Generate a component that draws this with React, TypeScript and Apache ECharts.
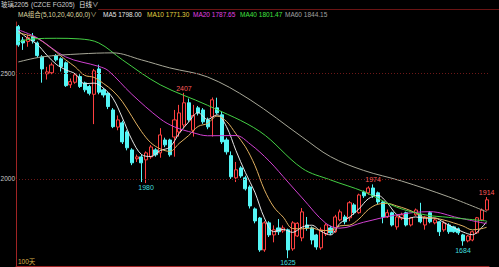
import React, { useEffect, useRef } from 'react';
import * as echarts from 'echarts';

// [open, close, low, high]
const ohlc: number[][] = [
  [2720, 2634, 2625, 2728], [2657, 2643, 2610, 2671], [2650, 2668, 2625, 2681], [2673, 2652, 2640, 2690],
  [2643, 2583, 2575, 2650], [2577, 2520, 2455, 2585], [2497, 2506, 2470, 2530], [2502, 2539, 2495, 2550],
  [2583, 2563, 2555, 2590], [2568, 2531, 2508, 2575], [2549, 2441, 2435, 2555], [2445, 2460, 2430, 2475],
  [2457, 2492, 2450, 2500], [2484, 2437, 2430, 2495], [2454, 2421, 2410, 2460], [2437, 2405, 2395, 2445],
  [2400, 2511, 2259, 2520], [2520, 2410, 2400, 2540], [2421, 2397, 2385, 2430], [2405, 2342, 2330, 2410],
  [2326, 2247, 2240, 2335], [2245, 2279, 2230, 2300], [2265, 2175, 2165, 2275], [2222, 2147, 2135, 2230],
  [2137, 2076, 2065, 2145], [2095, 2104, 2080, 2115], [2104, 2076, 1985, 2115], [2090, 2123, 1980, 2130],
  [2104, 2151, 2095, 2160], [2137, 2114, 2105, 2145], [2123, 2208, 2100, 2240], [2184, 2161, 2150, 2195],
  [2184, 2114, 2105, 2190], [2198, 2279, 2105, 2326], [2222, 2312, 2200, 2350], [2255, 2360, 2240, 2407],
  [2360, 2279, 2270, 2380], [2230, 2300, 2200, 2350], [2336, 2312, 2300, 2345], [2326, 2270, 2260, 2335],
  [2279, 2246, 2235, 2290], [2293, 2374, 2200, 2385], [2336, 2312, 2305, 2384], [2303, 2175, 2165, 2320],
  [2184, 2128, 2115, 2195], [2110, 2010, 2000, 2130], [2005, 2043, 1985, 2080], [2052, 2014, 2005, 2060],
  [2005, 1953, 1945, 2015], [1962, 1872, 1860, 1970], [1858, 1801, 1790, 1865], [1815, 1664, 1655, 1820],
  [1664, 1792, 1655, 1800], [1792, 1735, 1725, 1800], [1735, 1759, 1700, 1780], [1768, 1750, 1735, 1810],
  [1754, 1768, 1745, 1780], [1759, 1664, 1625, 1765], [1669, 1792, 1660, 1800], [1730, 1790, 1725, 1795],
  [1721, 1844, 1705, 1862], [1782, 1768, 1755, 1820], [1768, 1711, 1690, 1775], [1735, 1678, 1665, 1740],
  [1674, 1759, 1665, 1770], [1740, 1782, 1730, 1790], [1768, 1745, 1735, 1778], [1750, 1820, 1745, 1830],
  [1806, 1844, 1800, 1855], [1820, 1797, 1785, 1830], [1816, 1887, 1800, 1895], [1877, 1840, 1830, 1885],
  [1840, 1924, 1835, 1930], [1938, 1920, 1910, 1945], [1934, 1957, 1925, 1965], [1957, 1920, 1910, 1974],
  [1934, 1891, 1880, 1940], [1891, 1820, 1790, 1895], [1820, 1840, 1815, 1855], [1840, 1782, 1775, 1845],
  [1773, 1820, 1760, 1830], [1815, 1830, 1805, 1840], [1840, 1782, 1775, 1845], [1782, 1816, 1775, 1820],
  [1830, 1853, 1825, 1860], [1830, 1797, 1790, 1887], [1782, 1820, 1760, 1825], [1840, 1797, 1790, 1848],
  [1792, 1806, 1785, 1815], [1797, 1750, 1730, 1800], [1759, 1792, 1750, 1800], [1782, 1750, 1740, 1790],
  [1773, 1750, 1745, 1778], [1764, 1745, 1735, 1770], [1735, 1707, 1684, 1740], [1707, 1730, 1700, 1735],
  [1711, 1750, 1705, 1755], [1745, 1816, 1740, 1820], [1806, 1853, 1800, 1860], [1853, 1901, 1850, 1914],
];

const categories = ohlc.map((_, i) => `D${i + 1}`);

// moving-average lines: [candle index, value]
const ma5: number[][] = [
  [0, 2700], [2, 2665], [4, 2636], [6, 2586], [8, 2542], [10, 2516], [12, 2497], [14, 2450], [16, 2453],
  [18, 2429], [20, 2381], [22, 2288], [24, 2185], [26, 2116], [28, 2106], [30, 2134], [32, 2150], [34, 2215],
  [36, 2269], [38, 2313], [40, 2281], [42, 2303], [44, 2247], [46, 2134], [48, 2030], [50, 1937], [52, 1816],
  [54, 1750], [56, 1761], [58, 1747], [60, 1772], [62, 1781], [64, 1752], [66, 1735], [68, 1790], [70, 1819],
  [72, 1858], [74, 1906], [76, 1922], [78, 1886], [80, 1831], [82, 1811], [84, 1820], [86, 1814], [88, 1815],
  [90, 1793], [92, 1770], [94, 1749], [96, 1736], [98, 1771], [99, 1798],
];
const ma10: number[][] = [
  [0, 2690], [2, 2680], [4, 2665], [6, 2635], [8, 2600], [10, 2563], [12, 2530], [14, 2490], [16, 2480],
  [18, 2451], [20, 2416], [22, 2365], [24, 2295], [26, 2225], [28, 2171], [30, 2142], [32, 2130], [34, 2168],
  [36, 2205], [38, 2248], [40, 2262], [42, 2297], [44, 2272], [46, 2213], [48, 2152], [50, 2064], [52, 1949],
  [54, 1867], [56, 1819], [58, 1765], [60, 1764], [62, 1768], [64, 1756], [66, 1756], [68, 1778], [70, 1781],
  [72, 1810], [74, 1855], [76, 1880], [78, 1884], [80, 1872], [82, 1858], [84, 1839], [86, 1817], [88, 1815],
  [90, 1805], [92, 1792], [94, 1777], [96, 1759], [98, 1765], [99, 1771],
];
const ma20: number[][] = [
  [0, 2705], [4, 2667], [10, 2577], [17, 2532], [19, 2512], [24, 2400], [30, 2284], [33, 2246], [37, 2218],
  [40, 2204], [46, 2205], [49, 2165], [53, 2085], [57, 1985], [60, 1910], [65, 1790], [68, 1767], [73, 1795],
  [80, 1830], [87, 1845], [93, 1816], [99, 1788],
];
const ma40: number[][] = [
  [0, 2648], [3, 2662], [8, 2665], [13, 2662], [17, 2643], [22, 2563], [30, 2445], [40, 2348], [51, 2225],
  [60, 2050], [66, 1995], [73, 1940], [80, 1866], [86, 1830], [91, 1818], [99, 1801],
];
const ma60: number[][] = [
  [0, 2553], [5, 2577], [13, 2591], [20, 2596], [26, 2563], [32, 2525], [40, 2482], [49, 2374], [60, 2198],
  [66, 2105], [73, 2040], [81, 1990], [91, 1915], [99, 1844],
];

const highMarks: number[][] = [[35, 2407], [75, 1974], [99, 1914]];
const lowMarks: number[][] = [[27, 1980], [57, 1625], [94, 1684]];
const priceLevels = [2000, 2500];

const titleTexts = ['玻璃2205', '(CZCE FG205)', '日线∨'];
const legendTexts = ['MA组合(5,10,20,40,60,0)∨', 'MA5 1798.00', 'MA10 1771.30', 'MA20 1787.65', 'MA40 1801.47', 'MA60 1844.15'];
const periodText = '100天';

const FONT = "'Liberation Sans', 'Noto Sans CJK SC', sans-serif";
const FS = 6.5;
const RED = '#ff4040';
const CYAN = '#54f6f6';
const maColors = ['#e6e6e6', '#e0b060', '#d040d0', '#44d044', '#a8a898'];
const legendColors = ['#ddd6a0', '#e6e6e6', '#e0d040', '#e040e0', '#40e040', '#a0a0a0'];
const legendX = [18, 103, 147, 193, 240, 285];
const titleX = [1, 31, 79];

export default function App() {
  const ref = useRef<HTMLDivElement>(null);
  useEffect(() => {
    if (!ref.current) return;
    const chart = echarts.init(ref.current, undefined, { renderer: 'svg' });
    const maSeries = [ma5, ma10, ma20, ma40, ma60].map((d, k) => ({
      type: 'line',
      data: d,
      showSymbol: false,
      smooth: 0.35,
      silent: true,
      z: 3,
      lineStyle: { color: maColors[k], width: 1 },
    }));
    const markLabel = (pos: string, color: string) => ({
      show: true,
      position: pos,
      distance: 1,
      color,
      fontSize: 7,
      fontFamily: FONT,
      formatter: (p: any) => String(p.value),
    });
    const graphic: any[] = [];
    titleTexts.forEach((t, k) => {
      graphic.push({
        type: 'text', x: titleX[k], y: 4.5, silent: true,
        style: { text: t, fill: k === 2 ? '#e8e8e8' : '#cfcfcf', fontSize: FS, fontFamily: FONT, verticalAlign: 'middle' },
      });
    });
    legendTexts.forEach((t, k) => {
      graphic.push({
        type: 'text', x: legendX[k], y: 14.5, silent: true,
        style: { text: t, fill: legendColors[k], fontSize: FS, fontFamily: FONT, verticalAlign: 'middle' },
      });
    });
    graphic.push({
      type: 'line', silent: true,
      shape: { x1: 98, y1: 9.5, x2: 499, y2: 9.5 },
      style: { stroke: '#6a1414', lineWidth: 1 },
    });
    graphic.push({
      type: 'text', x: 18, y: 261, silent: true,
      style: { text: periodText, fill: '#d8b048', fontSize: FS, fontFamily: FONT, verticalAlign: 'middle' },
    });
    chart.setOption({
      animation: false,
      backgroundColor: '#000000',
      grid: { left: 16, right: 10, top: 22, bottom: 1 },
      xAxis: {
        type: 'category',
        data: categories,
        boundaryGap: true,
        axisLine: { show: true, lineStyle: { color: '#a02424', width: 1 } },
        axisTick: { show: false },
        axisLabel: { show: false },
        splitLine: { show: false },
      },
      yAxis: {
        type: 'value',
        min: 1588,
        max: 2742,
        axisLine: { show: true, lineStyle: { color: '#a02424', width: 1 } },
        axisTick: { show: false },
        axisLabel: { show: false },
        splitLine: { show: false },
      },
      graphic,
      series: [
        {
          type: 'candlestick',
          data: ohlc,
          barWidth: 3.6,
          z: 2,
          itemStyle: {
            color: '#000000',
            color0: CYAN,
            borderColor: RED,
            borderColor0: CYAN,
            borderWidth: 1,
          },
          markLine: {
            silent: true,
            symbol: ['none', 'none'],
            lineStyle: { color: '#6e1818', type: [1, 2], width: 1 },
            label: {
              show: true,
              position: 'start',
              distance: 1,
              color: '#c8c8c8',
              fontSize: FS,
              fontFamily: FONT,
              formatter: (p: any) => String(p.value),
            },
            data: priceLevels.map((v) => ({ yAxis: v })),
          },
          markPoint: {
            silent: true,
            symbol: 'circle',
            symbolSize: 0,
            itemStyle: { color: 'transparent' },
            data: [
              ...highMarks.map(([i, v]) => ({ coord: [i, v], value: v, label: markLabel('top', '#ff5a5a') })),
              ...lowMarks.map(([i, v]) => ({ coord: [i, v], value: v, label: markLabel('bottom', '#40dede') })),
            ],
          },
        },
        ...maSeries,
      ],
    });
    return () => chart.dispose();
  }, []);
  return (
    <div
      ref={ref}
      style={{ position: 'fixed', left: 0, top: 0, width: 499, height: 267, background: '#000' }}
    />
  );
}
